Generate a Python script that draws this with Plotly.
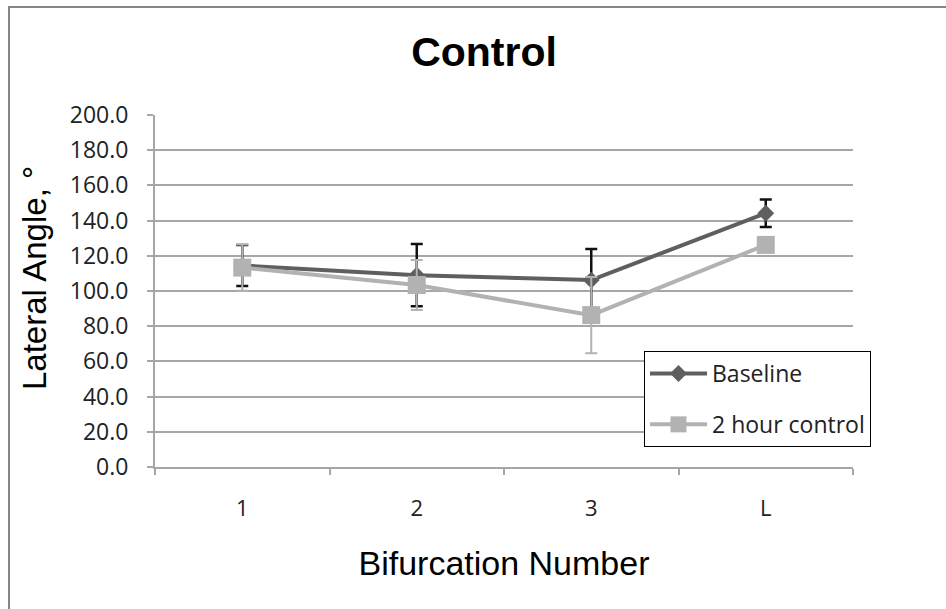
import plotly.graph_objects as go

categories = ["1", "2", "3", "L"]
baseline = [114.5, 109.0, 106.2, 144.2]
baseline_err = [11.7, 17.7, 17.7, 7.8]
control = [113.3, 103.4, 86.3, 126.2]
control_err = [13.1, 14.2, 21.6, 3.0]
y_ticks = [0, 20, 40, 60, 80, 100, 120, 140, 160, 180, 200]

DARK = "#5f5f5f"
LIGHT = "#b2b2b2"
GRID = "#a6a6a6"

fig = go.Figure()
fig.add_trace(go.Scatter(
    x=categories, y=baseline, name="Baseline", mode="lines+markers",
    line=dict(color=DARK, width=4),
    marker=dict(symbol="diamond", size=13, color=DARK),
    error_y=dict(type="data", array=baseline_err, visible=True,
                 color="#111111", thickness=2.5, width=6),
    legendgroup="a",
))
fig.add_trace(go.Scatter(
    x=categories, y=control, name="2 hour control", mode="lines+markers",
    line=dict(color=LIGHT, width=4),
    marker=dict(symbol="square", size=18, color=LIGHT),
    error_y=dict(type="data", array=control_err, visible=True,
                 color=LIGHT, thickness=2, width=6),
    legendgroup="b",
))

W, H = 946, 609
L, R, T, B = 155, 93, 115, 142
pw, ph = W - L - R, H - T - B

def px_x(p):
    return (p - L) / pw

def px_y(p):
    return (H - B - p) / ph

fig.update_layout(
    width=W, height=H,
    margin=dict(l=L, r=R, t=T, b=B),
    paper_bgcolor="white", plot_bgcolor="white",
    title=dict(text="<b>Control</b>", x=484 / W, xanchor="center",
               y=1 - 52 / H, yanchor="middle", yref="container",
               font=dict(family="Liberation Sans, Arial", size=41, color="black")),
    legend=dict(
        x=px_x(644), y=px_y(351), xanchor="left", yanchor="top",
        bgcolor="white", bordercolor="black", borderwidth=1,
        font=dict(family="Open Sans", size=23, color="#222222"),
        itemwidth=57, tracegroupgap=18,
    ),
    showlegend=True,
    shapes=[dict(type="rect", xref="paper", yref="paper",
                 x0=px_x(9), x1=px_x(955), y0=px_y(620), y1=px_y(7),
                 line=dict(color="#868686", width=2), layer="below")],
    annotations=[dict(text="Lateral Angle, °", textangle=-90,
                      xref="paper", yref="paper", x=px_x(34), y=px_y(278),
                      xanchor="center", yanchor="middle", showarrow=False,
                      font=dict(family="Liberation Sans, Arial", size=33, color="black"))],
)
fig.update_xaxes(
    type="category", range=[-0.5, 3.5],
    showgrid=False, showline=True, linecolor=GRID, linewidth=2,
    ticks="outside", tickson="boundaries", ticklen=6, tickcolor=GRID, tickwidth=2,
    tickfont=dict(family="Open Sans", size=22, color="#222222"),
    ticklabelstandoff=21,
    title=dict(text="Bifurcation Number", standoff=30,
               font=dict(family="Liberation Sans, Arial", size=34, color="black")),
)
fig.update_yaxes(
    range=[0, 200], tickvals=y_ticks, tickformat=".1f",
    showgrid=True, gridcolor=GRID, gridwidth=1.5,
    showline=True, linecolor=GRID, linewidth=2,
    ticks="outside", ticklen=6, tickcolor=GRID, tickwidth=1.5,
    tickfont=dict(family="Open Sans", size=23, color="#222222"),
    ticklabelstandoff=14, zeroline=False,
)

fig.write_html("out.html")
